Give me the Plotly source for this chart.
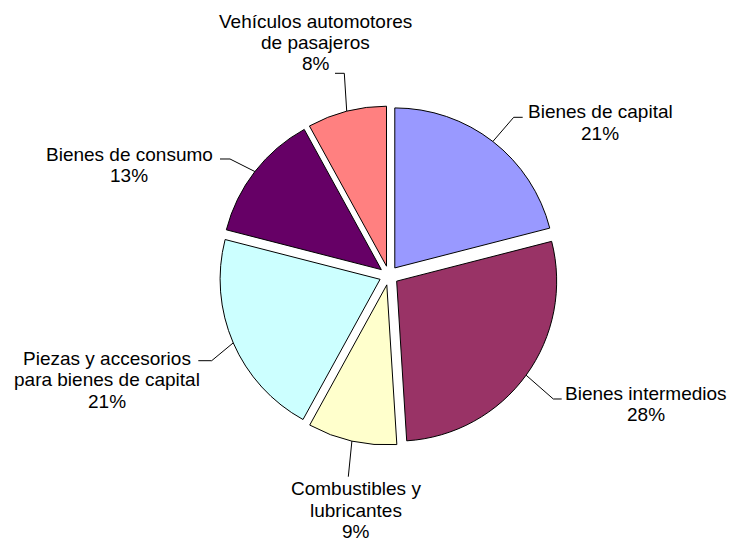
import math
import plotly.graph_objects as go

# ---- data ----
categories = [
    "Bienes de capital",
    "Bienes intermedios",
    "Combustibles y<br>lubricantes",
    "Piezas y accesorios<br>para bienes de capital",
    "Bienes de consumo",
    "Vehículos automotores<br>de pasajeros",
]
values = [21, 28, 9, 21, 13, 8]

# ---- styles / layout ----
colors = ["#9999FF", "#993366", "#FFFFCC", "#CCFFFF", "#660066", "#FF8080"]
W, H = 731, 541
CX, CY = 388.9, 275.5      # pie centre (px)
R = 160.0                  # pie radius (px)
PULL = 0.06
FONT = dict(family="Liberation Sans, Arial, sans-serif", size=19, color="black")
LINE_GAP = 21.5
# label block centre (x, first-line y) and leader elbow / end points, px
label_pos = [(600, 112), (646, 393), (356, 488.5), (107, 358), (129, 154), (315.5, 21)]
leader_pts = [
    [(513.7, 117.3), (522.7, 117.3)],
    [(553.3, 399.0), (561.7, 399.0)],
    [(348.3, 476.7)],
    [(211.7, 360.7), (198.3, 360.7)],
    [(230.0, 159.0), (220.0, 159.0)],
    [(344.3, 73.3), (335.0, 73.3)],
]

R_OUT = R * (1 + PULL)
dom_x = [(CX - R_OUT) / W, (CX + R_OUT) / W]
dom_y = [(H - CY - R_OUT) / H, (H - CY + R_OUT) / H]

fig = go.Figure(go.Pie(
    labels=[c.replace("<br>", " ") for c in categories],
    values=values,
    sort=False,
    direction="clockwise",
    rotation=0,
    pull=[PULL] * len(values),
    marker=dict(colors=colors, line=dict(color="black", width=1)),
    textinfo="none",
    hoverinfo="label+percent",
    domain=dict(x=dom_x, y=dom_y),
    showlegend=False,
))

def px(x, y):
    return x / W, 1 - y / H

total = sum(values)
cum = 0.0
annotations = []
shapes = []
for cat, v, (lx, ly), pts in zip(categories, values, label_pos, leader_pts):
    mid = (cum + v / 2) / total * 2 * math.pi
    cum += v
    ex = CX + R_OUT * math.sin(mid)
    ey = CY - R_OUT * math.cos(mid)
    path_pts = [(ex, ey)] + pts
    d = ""
    for i, (x, y) in enumerate(path_pts):
        xp, yp = px(x, y)
        d += ("M" if i == 0 else " L") + f"{xp:.5f},{yp:.5f}"
    shapes.append(dict(type="path", path=d, xref="paper", yref="paper",
                       line=dict(color="black", width=1)))
    lines = cat.split("<br>") + [f"{round(v / total * 100)}%"]
    for i, t in enumerate(lines):
        xp, yp = px(lx, ly + i * LINE_GAP)
        annotations.append(dict(text=t, x=xp, y=yp, xref="paper", yref="paper",
                                xanchor="center", yanchor="middle", showarrow=False,
                                font=FONT, borderpad=0))

fig.update_layout(
    width=W, height=H,
    margin=dict(l=0, r=0, t=0, b=0),
    paper_bgcolor="white", plot_bgcolor="white",
    annotations=annotations, shapes=shapes,
)
fig.write_html(
    "out.html",
    config={"displayModeBar": False},
    post_script="document.body.style.margin='0';document.body.style.overflow='hidden';",
)
